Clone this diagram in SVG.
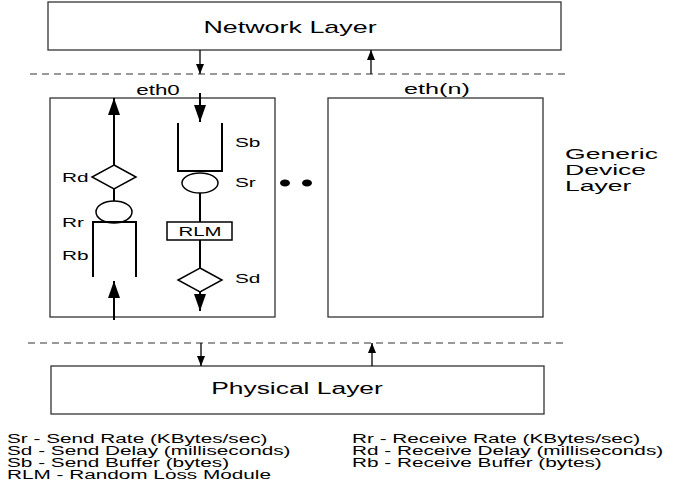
<svg xmlns="http://www.w3.org/2000/svg" width="673" height="486" viewBox="0 0 673 486">
<style>
  text { font-family: "Liberation Sans", Arial, Helvetica, sans-serif; fill: #000; }
  .box { fill: #fff; stroke: #333; stroke-width: 1.3; }
  .dash { fill: none; stroke: #333; stroke-width: 1; stroke-dasharray: 7 5; }
  .thin { fill: none; stroke: #000; stroke-width: 1.3; }
  .thick { fill: none; stroke: #000; stroke-width: 2; }
  .shape { fill: #fff; stroke: #000; stroke-width: 1.5; }
  .buf { fill: none; stroke: #000; stroke-width: 2; }
  .layer { font-size: 16px; text-anchor: middle; }
  .eth { font-size: 14px; text-anchor: middle; }
  .side { font-size: 15px; }
  .lbl { font-size: 13px; }
  .rlm { font-size: 12px; text-anchor: middle; }
  .lg { font-size: 12px; }
</style>
<defs>
  <marker id="ah" markerUnits="userSpaceOnUse" markerWidth="10" markerHeight="8" refX="10" refY="4" orient="auto">
    <path d="M0,0 L10,4 L0,8 z" fill="#000"/>
  </marker>
  <marker id="ahb" markerUnits="userSpaceOnUse" markerWidth="17" markerHeight="12" refX="17" refY="6" orient="auto">
    <path d="M0,0 L17,6 L0,12 z" fill="#000"/>
  </marker>
</defs>
<rect x="0" y="0" width="673" height="486" fill="#fff"/>

<g id="network-layer">
  <rect class="box" x="48" y="2" width="513" height="48"/>
  <text class="layer" transform="translate(290 33) scale(1.68 1)">Network Layer</text>
</g>

<g id="physical-layer">
  <rect class="box" x="51" y="366" width="493" height="48"/>
  <text class="layer" transform="translate(297 394) scale(1.65 1)">Physical Layer</text>
</g>

<g id="eth0">
  <rect class="box" x="50" y="98" width="225" height="219"/>
  <text class="eth" transform="translate(158 95) scale(1.6 1)">eth0</text>
</g>

<g id="eth-n">
  <rect class="box" x="328" y="98" width="215" height="219"/>
  <text class="eth" transform="translate(437 94) scale(1.8 1)">eth(n)</text>
</g>

<g id="ellipsis">
  <ellipse cx="285" cy="183" rx="5" ry="3.5" fill="#000"/>
  <ellipse cx="307" cy="183" rx="5" ry="3.5" fill="#000"/>
</g>

<g id="generic-device-layer">
  <text class="side" transform="translate(565 159) scale(1.77 1)">Generic</text>
  <text class="side" transform="translate(565 175) scale(1.77 1)">Device</text>
  <text class="side" transform="translate(565 191) scale(1.77 1)">Layer</text>
</g>

<g id="connectors">
  <line class="dash" x1="30" y1="74" x2="565" y2="74"/>
  <line class="dash" x1="28" y1="343" x2="564" y2="343"/>
  <line class="thin" x1="200" y1="50" x2="200" y2="74" marker-end="url(#ah)"/>
  <line class="thin" x1="371" y1="74" x2="371" y2="50" marker-end="url(#ah)"/>
  <line class="thin" x1="201" y1="343" x2="201" y2="366" marker-end="url(#ah)"/>
  <line class="thin" x1="372" y1="366" x2="372" y2="343" marker-end="url(#ah)"/>
  <!-- receive path -->
  <line class="thick" x1="114" y1="320" x2="114" y2="281" marker-end="url(#ahb)"/>
  <line class="thick" x1="114" y1="188" x2="114" y2="201"/>
  <line class="thick" x1="114" y1="165" x2="114" y2="98" marker-end="url(#ahb)"/>
  <!-- send path -->
  <line class="thick" x1="200" y1="93" x2="200" y2="122" marker-end="url(#ahb)"/>
  <line class="thick" x1="200" y1="193" x2="200" y2="222"/>
  <line class="thick" x1="200" y1="240" x2="200" y2="268"/>
  <line class="thick" x1="200" y1="292" x2="200" y2="311" marker-end="url(#ahb)"/>
</g>

<g id="rd">
  <polygon class="shape" points="114,165 136,177 114,189 92,177"/>
  <text class="lbl" transform="translate(62 182) scale(1.6 1)">Rd</text>
</g>
<g id="rr">
  <ellipse class="shape" cx="114" cy="212" rx="18" ry="11"/>
  <text class="lbl" transform="translate(62 227) scale(1.6 1)">Rr</text>
</g>
<g id="rb">
  <path class="buf" d="M93,277 L93,222 L136,222 L136,277"/>
  <text class="lbl" transform="translate(62 260) scale(1.6 1)">Rb</text>
</g>
<g id="sb">
  <path class="buf" d="M178,123 L178,171 L222,171 L222,123"/>
  <text class="lbl" transform="translate(235 147) scale(1.6 1)">Sb</text>
</g>
<g id="sr">
  <ellipse class="shape" cx="200" cy="183" rx="18" ry="10"/>
  <text class="lbl" transform="translate(235 187) scale(1.6 1)">Sr</text>
</g>
<g id="rlm">
  <rect class="shape" x="167" y="222" width="65" height="18"/>
  <text class="rlm" transform="translate(200 236) scale(1.7 1)">RLM</text>
</g>
<g id="sd">
  <polygon class="shape" points="200,268 222,280 200,292 178,280"/>
  <text class="lbl" transform="translate(235 283) scale(1.6 1)">Sd</text>
</g>

<g id="legend">
  <text class="lg" transform="translate(7 443) scale(1.73 1)">Sr - Send Rate (KBytes/sec)</text>
  <text class="lg" transform="translate(7 455) scale(1.73 1)">Sd - Send Delay (milliseconds)</text>
  <text class="lg" transform="translate(7 467) scale(1.73 1)">Sb - Send Buffer (bytes)</text>
  <text class="lg" transform="translate(7 479) scale(1.73 1)">RLM - Random Loss Module</text>
  <text class="lg" transform="translate(352 443) scale(1.73 1)">Rr - Receive Rate (KBytes/sec)</text>
  <text class="lg" transform="translate(352 455) scale(1.73 1)">Rd - Receive Delay (milliseconds)</text>
  <text class="lg" transform="translate(352 467) scale(1.73 1)">Rb - Receive Buffer (bytes)</text>
</g>
</svg>
